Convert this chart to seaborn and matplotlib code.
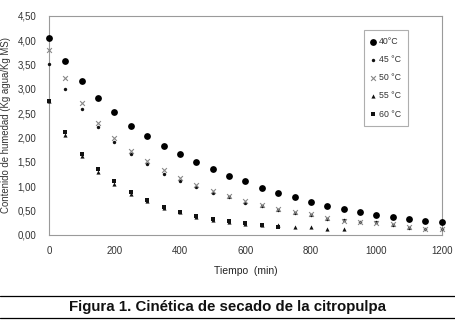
import matplotlib
matplotlib.use("Agg")
import matplotlib.pyplot as plt
import seaborn as sns
import pandas as pd
import numpy as np

sns.set_theme(style="white")
plt.rcParams['font.family'] = ['Liberation Sans', 'DejaVu Sans']

time = [0, 50, 100, 150, 200, 250, 300, 350, 400, 450, 500, 550, 600, 650, 700,
        750, 800, 850, 900, 950, 1000, 1050, 1100, 1150, 1200]
t40 = [4.05, 3.57, 3.15, 2.81, 2.52, 2.24, 2.03, 1.83, 1.66, 1.49, 1.35, 1.21, 1.10,
       0.97, 0.87, 0.77, 0.68, 0.60, 0.53, 0.47, 0.41, 0.36, 0.32, 0.29, 0.26]
t45 = [3.50, 3.00, 2.59, 2.22, 1.91, 1.66, 1.45, 1.26, 1.11, 0.99, 0.87, 0.78, 0.66,
       0.60, 0.51, 0.45, 0.40, 0.33, 0.30, 0.26, 0.27, 0.21, 0.15, 0.13, 0.12]
t50 = [3.80, 3.22, 2.71, 2.30, 1.98, 1.73, 1.52, 1.33, 1.17, 1.03, 0.90, 0.80, 0.70,
       0.62, 0.54, 0.47, 0.42, 0.35, 0.29, 0.27, 0.25, 0.22, 0.16, 0.13, 0.12]
time55 = [0, 50, 100, 150, 200, 250, 300, 350, 400, 450, 500, 550, 600, 650, 700,
          750, 800, 850, 900]
t55 = [2.75, 2.06, 1.62, 1.30, 1.04, 0.84, 0.69, 0.56, 0.46, 0.37, 0.31, 0.26, 0.23,
       0.21, 0.20, 0.17, 0.16, 0.13, 0.12]
time60 = [0, 50, 100, 150, 200, 250, 300, 350, 400, 450, 500, 550, 600, 650, 700]
t60 = [2.75, 2.11, 1.67, 1.35, 1.10, 0.88, 0.71, 0.57, 0.47, 0.39, 0.33, 0.28, 0.25,
       0.20, 0.17]

labels = ["40°C", "45 °C", "50 °C", "55 °C", "60 °C"]
yticks = [0, 0.5, 1.0, 1.5, 2.0, 2.5, 3.0, 3.5, 4.0, 4.5]
ytick_labels = ["0,00", "0,50", "1,00", "1,50", "2,00", "2,50", "3,00", "3,50", "4,00", "4,50"]
xticks = [0, 200, 400, 600, 800, 1000, 1200]

series = [
    (time, t40, labels[0], "o", 24, "black"),
    (time, t45, labels[1], "o", 6, "#111111"),
    (time, t50, labels[2], "x", 12, "#888888"),
    (time55, t55, labels[3], "^", 9, "#111111"),
    (time60, t60, labels[4], "s", 11, "#111111"),
]

fig = plt.figure(figsize=(4.56, 3.2), dpi=100)
ax = fig.add_axes([0.1075, 0.266, 0.8615, 0.685])

for tx, ty, lab, mk, sz, col in series:
    df = pd.DataFrame({"t": tx, "v": ty})
    kw = dict(linewidth=0.8) if mk == "x" else dict(linewidth=0)
    sns.scatterplot(data=df, x="t", y="v", ax=ax, marker=mk, s=sz, color=col,
                    label=lab, clip_on=False, zorder=3, **kw)

ax.set_xlim(0, 1200)
ax.set_ylim(0, 4.5)
ax.set_xticks(xticks)
ax.set_xticklabels([str(x) for x in xticks])
ax.set_yticks(yticks)
ax.set_yticklabels(ytick_labels)
ax.tick_params(axis='both', length=0, labelsize=7, colors="#333333")
ax.tick_params(axis='x', pad=8)
ax.tick_params(axis='y', pad=9)
ax.set_xlabel("Tiempo  (min)", fontsize=7.5, color="#222222", labelpad=7)
ax.set_ylabel("Contenido de humedad (Kg agua/Kg MS)", fontsize=6.9, color="#333333", labelpad=5)
for sp in ax.spines.values():
    sp.set_color("#9a9a9a")
    sp.set_linewidth(0.8)

leg = ax.legend(loc="upper left", bbox_to_anchor=(0.79, 0.955), fontsize=6.3,
                frameon=True, fancybox=False, handlelength=0.6, handletextpad=0.3,
                labelspacing=1.05, borderpad=0.8, markerscale=1.0)
leg.get_frame().set_edgecolor("#9a9a9a")
leg.get_frame().set_linewidth(0.8)
for txt in leg.get_texts():
    txt.set_color("#333333")

fig.add_artist(plt.Line2D([0, 1], [1 - 296/320, 1 - 296/320], color="black", lw=0.9))
fig.add_artist(plt.Line2D([0, 1], [1 - 318/320, 1 - 318/320], color="black", lw=0.9))
fig.text(0.5, 1 - 307/320, "Figura 1. Cinética de secado de la citropulpa",
         ha="center", va="center", fontsize=10.8, fontweight="bold", color="#111111")

fig.savefig("out.png", dpi=100)
